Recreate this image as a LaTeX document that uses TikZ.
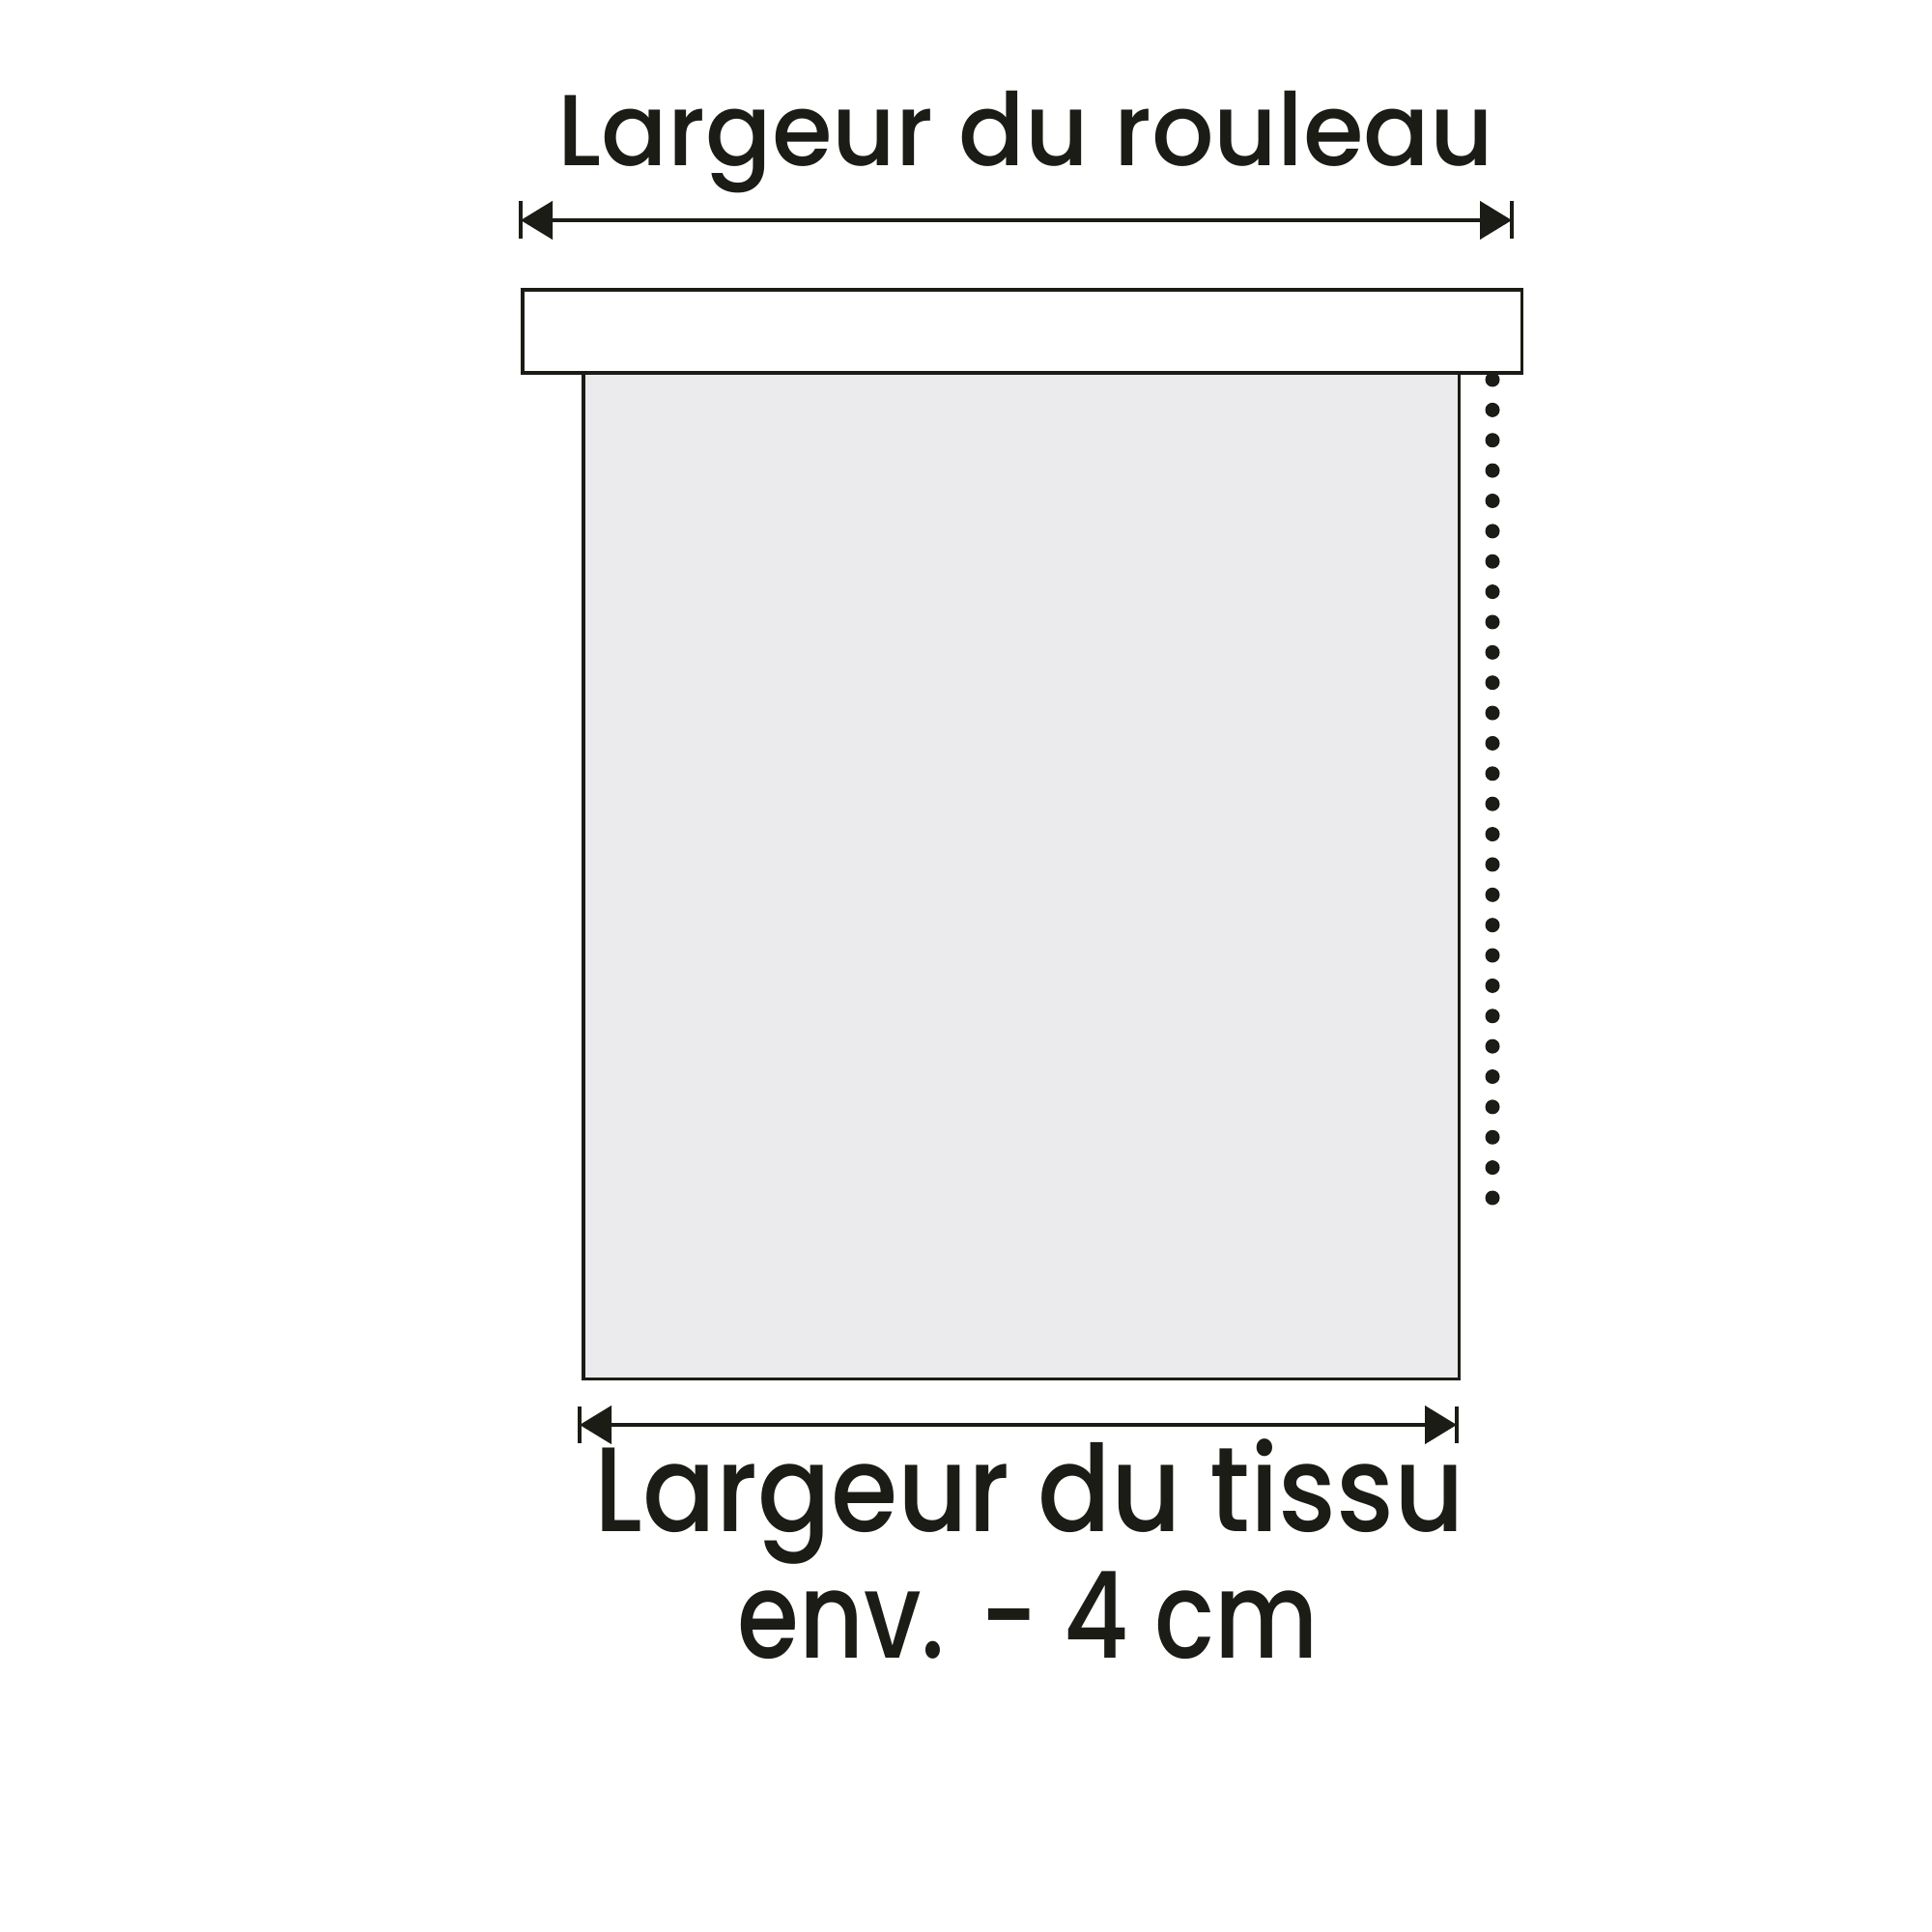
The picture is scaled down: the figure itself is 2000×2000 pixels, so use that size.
\documentclass[tikz,border=0pt]{standalone}
\usepackage{fontspec}
\setmainfont{Poppins Medium}
\usetikzlibrary{arrows.meta}
\definecolor{inkblack}{RGB}{28,28,22}
\definecolor{fabricgray}{RGB}{235,235,238}

\begin{document}
\begin{tikzpicture}[x=0.01cm,y=-0.01cm,
  edge/.style={line width=0.035cm,inkblack},
  dimline/.style={line width=0.045cm,inkblack,{Triangle[length=0.33cm,width=0.39cm]}-{Triangle[length=0.33cm,width=0.39cm]}},
  tick/.style={line width=0.035cm,inkblack},
  label/.style={inkblack,anchor=base,inner sep=0pt}]
\useasboundingbox[fill=white] (0,0) rectangle (2000,2000);
%
\node (fabric) [edge,draw,fill=fabricgray,anchor=north west,inner sep=0pt,
  minimum width=9.06cm,minimum height=10.41cm] at (602,384) {};
\node (roller) [edge,draw,fill=white,anchor=north west,inner sep=0pt,
  minimum width=10.34cm,minimum height=0.86cm] at (539,298) {};
%
\foreach \i in {0,...,27}
  \fill[inkblack] (1545,393+31.37*\i) circle (0.075cm);
%
\coordinate (rtl) at (539,228);
\coordinate (rtr) at (1565,228);
\draw[tick] (539,208) -- (539,247);
\draw[tick] (1565,208) -- (1565,247);
\draw[dimline] (rtl) -- (rtr);
%
\coordinate (ftl) at (600,1475);
\coordinate (ftr) at (1508,1475);
\draw[tick] (600,1456) -- (600,1494);
\draw[tick] (1508,1456) -- (1508,1494);
\draw[dimline] (ftl) -- (ftr);
%
\node (rollertext) [label,font=\fontsize{29.7}{34}\selectfont] at (1062,172) {\scalebox{0.97}[1]{Largeur du rouleau}};
\node (fabrictext) [label,font=\fontsize{35.4}{40}\selectfont] at (1066,1585) {\scalebox{0.9}[1]{Largeur du tissu}};
\node (envtext) [label,font=\fontsize{35.4}{40}\selectfont] at (1064,1716) {\scalebox{0.83}[1]{env. - 4 cm}};
\end{tikzpicture}
\end{document}
